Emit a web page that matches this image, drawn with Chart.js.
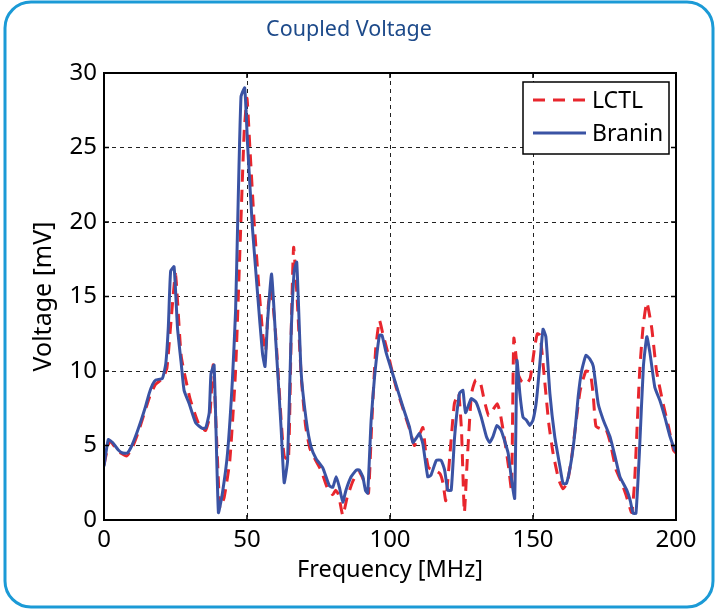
<!DOCTYPE html>
<html>
<head>
<meta charset="utf-8">
<script src="https://cdn.jsdelivr.net/npm/chart.js@4.4.1/dist/chart.umd.min.js"></script>
<style>
  html, body { margin: 0; padding: 0; background: #ffffff; }
  #wrap { width: 715px; height: 609px; }
</style>
</head>
<body>
<div id="wrap"><canvas id="c" width="715" height="609"></canvas></div>
<script>
// ─── Data ───
const xTicks = [0, 50, 100, 150, 200];
const yTicks = [0, 5, 10, 15, 20, 25, 30];

const branFreq = [0, 1.5, 3, 5, 6.5, 8.2, 9.5, 11, 13, 14.5, 15.8, 17, 18.1, 20.4, 21.6, 22.5, 23.3, 24.5, 25.7, 27, 28,
    29.8, 32.1, 34.4, 35.6, 36.8, 37.4, 38.5, 40, 41.4, 43.2, 44.9, 46, 46.7, 47.9, 49.2, 50.2, 51.9, 53.7, 55.4,
    56.3, 57.2, 58.6, 60.1, 61.9, 63, 64.2, 65.4, 66.5, 67.4, 68.9, 70.7, 72.4, 74.2, 76.5, 78.8, 80, 81.2, 82.3,
    83.5, 84.6, 86.4, 88.2, 89.3, 90.5, 91.4, 92.2, 93.4, 94.6, 96.3, 97.2, 98.7, 101.6, 104.5, 106.8, 108, 109.2,
    110.3, 111.5, 113.2, 114.3, 116.2, 117.9, 119.1, 120.2, 121.4, 122.6, 124.3, 125.5, 126.4, 128.4, 130.1, 131.9,
    133.7, 134.8, 136, 137.4, 138.9, 141.3, 142.5, 143.6, 144.4, 145.4, 146.5, 147.7, 148.9, 150, 151.2, 152.4,
    153.5, 154.5, 155.9, 157.6, 159.4, 160.5, 161.7, 163.4, 164.6, 165.8, 167, 168.5, 169.9, 171.1, 172.8, 174.6,
    176.9, 178.7, 180.4, 182.8, 184, 185, 186, 187.2, 188.6, 189.8, 190.9, 192.6, 194.4, 196.1, 197.9, 199.6, 200];
const branVolt = [3.6, 5.4, 5.2, 4.7, 4.5, 4.5, 4.9, 5.6, 6.7, 7.6, 8.5, 9.1, 9.4, 9.5, 10.5, 13, 16.7, 17.0, 12.9, 10.5, 8.7,
    7.8, 6.5, 6.15, 6.2, 7.2, 9.8, 10.4, 0.5, 1.8, 4.5, 9.4, 14, 19.6, 28.4, 29.0, 25.2, 19.6, 15.2, 11.2,
    10.3, 13.4, 16.5, 11.9, 6.25, 2.5, 4.0, 12.3, 16.7, 17.3, 10.0, 6.7, 4.9, 4.1, 3.5, 2.3, 2.2, 2.9, 2.2,
    1.2, 2.0, 2.9, 3.35, 3.35, 2.9, 2.0, 1.8, 6.7, 9.6, 12.4, 12.4, 11.2, 9.4, 7.6, 6.25, 5.2, 5.5,
    5.8, 5.1, 2.9, 3.0, 4.0, 4.0, 3.35, 2.0, 2.0, 5.6, 8.5, 8.7, 7.2, 8.15, 7.9, 6.9,
    5.6, 5.2, 5.6, 6.35, 6.0, 4.5, 2.7, 1.45, 10.7, 8.5, 6.9, 6.7, 6.35, 6.7, 8.0, 10.5,
    12.8, 12.3, 8.5, 5.6, 3.6, 2.45, 2.45, 4.0, 5.8, 8.3, 10.0, 11.05, 10.8, 10.3, 7.8, 6.7,
    5.6, 4.25, 2.9, 2.0, 1.3, 0.45, 0.45, 4.5, 10.3, 12.3, 11.2, 8.9, 8.0, 6.9, 5.6, 4.7, 4.6];

const lctlFreq = [0, 2, 5, 8, 10, 12, 14, 16, 18, 20.5, 22, 23.5, 25, 27, 30, 33, 35.5, 37, 38.2, 40.5, 42, 44, 46, 47.5,
    49, 50, 51, 52.5, 54, 55.5, 56.5, 57.5, 58.5, 60, 62, 63, 64.5, 65.5, 66.3, 67.5, 69, 70.5, 72, 74, 76, 78, 80,
    81, 82, 83.5, 85, 87, 89, 90.5, 91.5, 92.5, 93.5, 95, 96.3, 97.5, 99, 102, 104.5, 107, 108.5, 110, 111.5,
    112.5, 113.5, 116, 117.5, 118.5, 119.5, 121, 122.5, 124, 125, 126, 127, 128.5, 130, 131.5, 133, 134.5, 136,
    137.5, 138.5, 140, 141.5, 142.5, 143.3, 144.8, 146, 147.5, 149, 150.5, 151.5, 152.5, 154, 155.5, 157, 159,
    160.5, 162, 163.5, 165, 166.5, 168.5, 170, 171, 172, 174, 175.5, 177, 179, 181, 182.5, 184.5, 185.5, 187.3,
    188.5, 189.8, 191.5, 193.2, 195.5, 197.4, 199.1, 200];
const lctlVolt = [3.7, 5.3, 4.6, 4.3, 4.9, 5.9, 7.1, 8.3, 9.1, 9.5, 10.2, 13.5, 16.5, 11, 8.2, 6.5, 6.0, 7.0, 10.4, 0.8, 1.5,
    4.0, 10, 18, 26, 28.3, 25, 20, 16, 12.5, 11.3, 14.5, 15.5, 12.5, 6.5, 4.3, 4.0, 13, 18.3, 15, 9.5, 6.3, 4.8,
    4.0, 3.3, 2.2, 1.7, 2.0, 1.7, 0.3, 1.5, 2.6, 3.3, 2.8, 2.2, 1.8, 6, 11.5, 13.4, 12.5, 11.4, 9.0, 7.5, 6.0,
    5.0, 5.6, 6.2, 4.5, 3.5, 3.3, 3.1, 2.5, 1.3, 4.5, 7.8, 8.5, 6, 0.5, 4, 8.5, 9.4, 9.3, 8.0, 7.0, 7.4,
    7.8, 7.2, 5.5, 3.5, 2.0, 12.2, 9.8, 9.3, 9.1, 9.5, 11.5, 12.5, 12.4, 9.5, 6.5, 4.5, 2.7,
    2.1, 2.5, 4.2, 6.5, 8.7, 10.0, 9.9, 8.5, 6.3, 6.1, 6.1, 5.2, 3.4, 2.5, 1.7, 0.5, 2.5, 10.0,
    13, 14.6, 12.9, 10.0, 7.8, 6.25, 4.7, 4.5];

const toPoints = (xs, ys) => xs.map((x, i) => ({ x, y: ys[i] }));

const FONT = "'Noto Sans', sans-serif";
const RED = '#e8262d';
const BLUE = '#3a53a4';

// ─── Frame, title, plot box, inner ticks, legend ───
const decorPlugin = {
    id: 'decor',
    beforeDraw(chart) {
        const ctx = chart.ctx;
        ctx.save();
        ctx.fillStyle = '#ffffff';
        ctx.fillRect(0, 0, chart.width, chart.height);
        ctx.strokeStyle = '#1b9ad6';
        ctx.lineWidth = 3;
        ctx.beginPath();
        ctx.roundRect(5, 2, 708, 605, 26);
        ctx.stroke();
        ctx.fillStyle = '#1d4a8a';
        ctx.font = '21.5px ' + FONT;
        ctx.textAlign = 'center';
        ctx.textBaseline = 'middle';
        ctx.fillText('Coupled Voltage', 349, 30);
        ctx.restore();
    },
    afterDraw(chart) {
        const { ctx, chartArea: a, scales } = chart;
        ctx.save();
        ctx.strokeStyle = '#000000';
        ctx.lineWidth = 1.5;
        ctx.beginPath();
        xTicks.forEach(v => {
            const px = scales.x.getPixelForValue(v);
            ctx.moveTo(px, a.bottom); ctx.lineTo(px, a.bottom - 5);
            ctx.moveTo(px, a.top); ctx.lineTo(px, a.top + 5);
        });
        yTicks.forEach(v => {
            const py = scales.y.getPixelForValue(v);
            ctx.moveTo(a.left, py); ctx.lineTo(a.left + 5, py);
            ctx.moveTo(a.right, py); ctx.lineTo(a.right - 5, py);
        });
        ctx.stroke();
        ctx.lineWidth = 2;
        ctx.strokeRect(a.left, a.top, a.right - a.left, a.bottom - a.top);

        // legend inside the plot, top right
        const lx = 523, ly = 82, lw = 146, lh = 72;
        ctx.fillStyle = '#ffffff';
        ctx.fillRect(lx, ly, lw, lh);
        ctx.lineWidth = 1.5;
        ctx.strokeRect(lx, ly, lw, lh);
        const items = [chart.data.datasets[1], chart.data.datasets[0]];
        items.forEach((ds, i) => {
            const y = ly + 18 + i * 33;
            ctx.strokeStyle = ds.borderColor;
            ctx.lineWidth = 3;
            ctx.setLineDash(ds.borderDash || []);
            ctx.beginPath();
            ctx.moveTo(lx + 10, y); ctx.lineTo(lx + 63, y);
            ctx.stroke();
            ctx.setLineDash([]);
            ctx.fillStyle = '#000000';
            ctx.font = '23px ' + FONT;
            ctx.textAlign = 'left';
            ctx.textBaseline = 'middle';
            ctx.fillText(ds.label, lx + 69, y + 1);
        });
        ctx.restore();
    }
};

const gridStyle = {
    color: '#222222',
    lineWidth: 1,
    drawTicks: false
};

new Chart(document.getElementById('c'), {
    type: 'line',
    data: {
        datasets: [{
            label: 'Branin',
            data: toPoints(branFreq, branVolt),
            borderColor: BLUE,
            borderWidth: 3,
            pointRadius: 0,
            tension: 0.15,
            fill: false,
            order: 0
        }, {
            label: 'LCTL',
            data: toPoints(lctlFreq, lctlVolt),
            borderColor: RED,
            borderWidth: 3,
            borderDash: [12, 8],
            pointRadius: 0,
            tension: 0.15,
            fill: false,
            order: 1
        }]
    },
    options: {
        responsive: false,
        animation: false,
        layout: { padding: { left: 0, right: 39, top: 73, bottom: 0 } },
        plugins: {
            legend: { display: false },
            tooltip: { enabled: false },
            title: { display: false }
        },
        scales: {
            x: {
                type: 'linear',
                min: 0,
                max: 200,
                afterBuildTicks: s => { s.ticks = xTicks.map(v => ({ value: v })); },
                afterFit: s => { s.height = 89; },
                grid: gridStyle,
                border: { display: false, dash: [4, 4] },
                ticks: { color: '#000', padding: 6, font: { family: FONT, size: 24 } },
                title: {
                    display: true,
                    text: 'Frequency [MHz]',
                    color: '#000',
                    font: { family: FONT, size: 23.5 },
                    padding: { top: 0, bottom: 25 }
                }
            },
            y: {
                type: 'linear',
                min: 0,
                max: 30,
                afterBuildTicks: s => { s.ticks = yTicks.map(v => ({ value: v })); },
                afterFit: s => { s.width = 104; },
                grid: gridStyle,
                border: { display: false, dash: [4, 4] },
                ticks: { color: '#000', padding: 7, font: { family: FONT, size: 24 } },
                title: {
                    display: true,
                    text: 'Voltage [mV]',
                    color: '#000',
                    font: { family: FONT, size: 25 },
                    padding: { top: 29, bottom: 0 }
                }
            }
        }
    },
    plugins: [decorPlugin]
});
</script>
</body>
</html>
